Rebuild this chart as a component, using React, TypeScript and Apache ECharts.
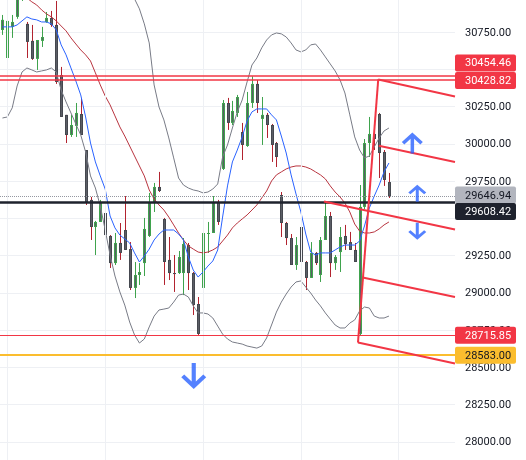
import { useEffect, useRef } from "react";
import * as echarts from "echarts";

// ---- candles (bar index = position in arrays) ----
const opens = [30765,30577,30786,30853,30990,30806,30692,30571,30692,30819,
 30846,30799,30463,30195,30060,30121,30201,29959,29624,29442,
 29476,29536,29382,29200,29335,29422,29294,29033,29120,29200,
 29382,29603,29711,29496,29221,29133,29133,29133,29321,29133,
 28925,29033,29395,29402,29610,29832,30275,30141,30208,30080,
 29986,30275,30403,30168,30195,30127,30006,29657,29469,29368,
 29187,29442,29207,29100,29268,29120,29355,29516,29200,29274,
 29382,29341,29288,28724,29577,30006,30067,30201,29946,29744];
const closes = [30833,30826,30819,30990,31050,30685,30571,30698,30718,30846,
 30799,30416,30181,30060,30127,30208,30060,29610,29442,29476,
 29610,29388,29200,29335,29268,29288,29033,29120,29140,29429,
 29610,29711,29684,29207,29133,29127,29241,29328,29133,28918,
 28724,29402,29402,29610,29476,30275,30141,30221,30315,29993,
 30275,30403,30275,30195,30127,29993,29912,29469,29368,29187,
 29321,29207,29100,29268,29200,29355,29516,29200,29241,29375,
 29328,29288,29207,29577,30006,30067,30033,29939,29758,29646.94];
const lows = [30732,30570,30712,30840,30960,30577,30564,30497,30651,30813,
 30786,30403,30181,30006,30047,30047,30060,29590,29355,29254,
 29476,29375,29167,29187,29221,29288,29019,28965,29053,29113,
 29375,29543,29677,29053,29086,29006,29127,28985,29019,28851,
 28716,28965,29268,29402,29456,29825,30094,30127,30181,29892,
 29980,30242,30208,29993,30040,29879,29845,29375,29321,29187,
 29154,29207,29019,29100,29187,29073,29355,29106,29154,29140,
 29288,29288,29207,28716,29563,29912,29959,29771,29718,29637];
const highs = [30866,30866,30866,31020,31080,30819,30799,30698,30786,30886,
 30893,30960,30517,30195,30195,30275,30309,29959,29644,29483,
 29624,29637,29388,29402,29469,29650,29341,29207,29200,29503,
 29671,29738,29812,29503,29375,29254,29281,29368,29335,29140,
 28972,29436,29476,29650,29624,30295,30309,30289,30329,30141,
 30349,30454.46,30428.82,30315,30208,30134,30013,29677,29476,29395,
 29375,29476,29214,29341,29274,29375,29617,29543,29254,29442,
 29456,29409,29335,29724,30033,30181,30127,30208,29959,29805];

// ---- indicators ----
const fastMA = [30786,30786,30786,30799,30826,30853,30839,30833,30819,30819,
 30806,30766,30665,30598,30510,30423,30329,30181,30006,29879,
 29785,29697,29516,29436,29388,29362,29335,29268,29207,29247,
 29294,29355,29395,29422,29422,29422,29395,29355,29241,29153,
 29106,29140,29180,29214,29288,29509,29718,29879,29959,30047,
 30154,30215,30235,30235,30235,30195,30161,30053,29939,29792,
 29664,29543,29395,29274,29254,29268,29268,29268,29288,29308,
 29321,29321,29321,29348,29449,29570,29650,29724,29812,29872];
const slowMA = [31115,31088,31061,31034,31007,30980,30954,30933,30900,30873,
 30853,30826,30792,30759,30712,30671,30631,30598,30557,30477,
 30396,30322,30262,30188,30114,30053,29986,29919,29852,29785,
 29691,29630,29590,29556,29509,29456,29402,29355,29315,29294,
 29274,29268,29274,29288,29308,29348,29388,29436,29469,29496,
 29523,29556,29590,29637,29684,29751,29792,29812,29832,29845,
 29852,29852,29845,29832,29812,29792,29765,29718,29677,29644,
 29603,29543,29462,29415,29402,29402,29409,29429,29456,29476];
const bandUpper = [31230,31240,31250,31260,31270,31280,31290,31300,31300,31300,
 31300,31290,31280,31270,31260,31250,31240,31230,31220,31210,
 31200,31180,31160,31130,31100,31070,31030,30974,30907,30806,
 30678,30396,30248,30161,30040,29906,29771,29724,29704,29691,
 29684,29671,29677,29697,29731,29912,29993,30107,30215,30295,
 30416,30530,30577,30645,30698,30732,30745,30739,30718,30678,
 30631,30618,30631,30665,30671,30631,30584,30537,30490,30430,
 30342,30195,30047,29959,29906,29919,29980,30040,30087,30107];
const bandLower = [30174,30181,30242,30389,30483,30510,30497,30483,30490,30497,
 30510,30483,30362,30282,30208,30134,30060,29946,29785,29704,
 29583,29422,29254,29113,29006,28918,28804,28717,28663,28690,
 28771,28844,28885,28891,28898,28938,28985,28992,28972,28912,
 28865,28865,28858,28831,28777,28723,28690,28670,28663,28656,
 28643,28636,28629,28643,28697,28784,28871,28938,28992,29039,
 29073,29080,29039,28999,28952,28912,28865,28824,28784,28764,
 28764,28797,28818,28878,28905,28898,28844,28831,28831,28844];

// ---- axis ----
const yMin = 27750;
const yMax = 31000;
const yStep = 250;
const hiddenTicks = [30500, 29500];
const timeGridBars = [1, 21, 41, 61, 81];
const barSlots = 93;

// ---- drawings ----
const levelValues = [30454.46, 30428.82, 29646.94, 29608.42, 28715.85, 28583.0];
const channelSegments = [
  [72.67, 28666, 76.81, 30433],
  [76.81, 30433, 92.5, 30319],
  [76.93, 29988, 92.5, 29879],
  [65.71, 29614, 92.5, 29425],
  [73.62, 29103, 92.5, 28972],
  [72.67, 28666, 92.5, 28525],
];
const arrowUpPoints = [[83.78, 30006], [84.79, 29669]];
const arrowDownPoints = [[84.79, 29413], [39.1, 28441]];

const GREEN = "#3fa34d";
const RED = "#b2232f";
const BODY = "#5b5e66";
const DOWN_EDGE = "#45484f";
const LINE_RED = "#f23645";

const levelStyles = [
  { color: LINE_RED, width: 1.5, type: "solid", bg: LINE_RED, fg: "#ffffff", shift: -13.3 },
  { color: LINE_RED, width: 1.5, type: "solid", bg: LINE_RED, fg: "#ffffff", shift: 0.4 },
  { color: "#9598a1", width: 1, type: "dotted", bg: "#b2b5be", fg: "#131722", shift: -1.5 },
  { color: "#1e222d", width: 2.5, type: "solid", bg: "#1e222d", fg: "#ffffff", shift: 9.2 },
  { color: LINE_RED, width: 1, type: "solid", bg: LINE_RED, fg: "#ffffff", shift: 0 },
  { color: "#fbbd2e", width: 2, type: "solid", bg: "#fbbd2e", fg: "#131722", shift: 0.2 },
];

const UP_PATH = "path://M12 1L22.5 11.5L20 14L13.75 7.75L13.75 24L10.25 24L10.25 7.75L4 14L1.5 11.5Z";
const DOWN_PATH = "path://M12 24L22.5 13.5L20 11L13.75 17.25L13.75 1L10.25 1L10.25 17.25L4 11L1.5 13.5Z";

export default function App() {
  const ref = useRef<HTMLDivElement>(null);

  useEffect(() => {
    const el = ref.current;
    if (!el) return;
    const chart = echarts.init(el, undefined, { renderer: "svg" });
    const bars = opens.map((o, i) => [i, o, closes[i], lows[i], highs[i]]);
    const xy = (arr: number[]) => arr.map((v, i) => [i, v]);
    const lineBase = { type: "line", symbol: "none", silent: true, clip: true, z: 3 };

    const option: any = {
      animation: false,
      grid: { left: -3.06, right: 71, top: 0, bottom: 0 },
      xAxis: { type: "value", min: -0.5, max: barSlots - 0.5, show: false },
      yAxis: {
        type: "value",
        position: "right",
        min: yMin,
        max: yMax,
        interval: yStep,
        axisLine: { show: false },
        axisTick: { show: false },
        splitLine: { lineStyle: { color: "#eef0f4", width: 1 } },
        axisLabel: {
          margin: 10,
          color: "#131722",
          fontFamily: "Roboto",
          fontSize: 11,
          showMinLabel: false,
          showMaxLabel: false,
          formatter: (v: number) => (hiddenTicks.includes(v) ? "" : v.toFixed(2)),
        },
      },
      series: [
        {
          type: "line",
          data: [],
          silent: true,
          z: 1,
          markLine: {
            silent: true,
            symbol: ["none", "none"],
            label: { show: false },
            lineStyle: { color: "#eef0f4", type: "solid", width: 1 },
            data: timeGridBars.map((b) => ({ xAxis: b })),
          },
        },
        {
          type: "custom",
          z: 2,
          clip: true,
          silent: true,
          data: bars,
          encode: { x: 0, y: [1, 2, 3, 4] },
          renderItem: (_p: any, api: any) => {
            const i = api.value(0);
            const o = api.value(1);
            const c = api.value(2);
            const l = api.value(3);
            const h = api.value(4);
            const up = c >= o;
            const ph = api.coord([i, h]);
            const pl = api.coord([i, l]);
            const po = api.coord([i, o]);
            const pc = api.coord([i, c]);
            const xc = Math.round(ph[0]);
            const top = Math.min(po[1], pc[1]);
            const bot = Math.max(po[1], pc[1]);
            const hgt = Math.max(1, bot - top);
            const children: any[] = [
              {
                type: "line",
                shape: { x1: xc + 0.5, y1: ph[1], x2: xc + 0.5, y2: pl[1] },
                style: { stroke: up ? GREEN : RED, lineWidth: 1 },
              },
              {
                type: "rect",
                shape: { x: xc - 1, y: top, width: 3, height: hgt },
                style: { fill: up ? GREEN : DOWN_EDGE, stroke: null },
              },
            ];
            if (hgt > 2) {
              children.push({
                type: "rect",
                shape: { x: xc, y: top + 1, width: 1, height: hgt - 2 },
                style: { fill: BODY, stroke: null },
              });
            }
            return { type: "group", children };
          },
        },
        { ...lineBase, data: xy(bandUpper), lineStyle: { color: "#787b86", width: 1 } },
        { ...lineBase, data: xy(bandLower), lineStyle: { color: "#787b86", width: 1 } },
        { ...lineBase, data: xy(slowMA), lineStyle: { color: "#b8343f", width: 1 } },
        { ...lineBase, data: xy(fastMA), lineStyle: { color: "#2962ff", width: 1 } },
        {
          type: "line",
          data: [],
          silent: true,
          z: 4,
          markLine: {
            silent: true,
            symbol: ["none", "none"],
            label: { show: false },
            data: levelValues.map((v, i) => ({
              yAxis: v,
              lineStyle: { color: levelStyles[i].color, width: levelStyles[i].width, type: levelStyles[i].type },
            })),
          },
        },
        {
          type: "lines",
          coordinateSystem: "cartesian2d",
          silent: true,
          z: 5,
          lineStyle: { color: LINE_RED, width: 2, opacity: 1 },
          data: channelSegments.map((s) => ({ coords: [[s[0], s[1]], [s[2], s[3]]] })),
        },
        {
          type: "scatter",
          silent: true,
          z: 6,
          itemStyle: { color: "#2962ff" },
          data: [
            { value: arrowUpPoints[0], symbol: UP_PATH, symbolSize: [21, 21] },
            { value: arrowUpPoints[1], symbol: UP_PATH, symbolSize: [18, 17] },
            { value: arrowDownPoints[0], symbol: DOWN_PATH, symbolSize: [18, 17] },
            { value: arrowDownPoints[1], symbol: DOWN_PATH, symbolSize: [25, 26] },
          ],
        },
      ],
    };
    chart.setOption(option);

    const boxX = chart.convertToPixel({ xAxisIndex: 0 }, barSlots - 0.5) as number;
    const graphics: any[] = [];
    levelValues.forEach((v, i) => {
      const st = levelStyles[i];
      const cy = (chart.convertToPixel({ yAxisIndex: 0 }, v) as number) + st.shift;
      graphics.push({
        type: "rect",
        z: 100,
        shape: { x: boxX, y: cy - 8.5, width: 61, height: 17, r: 2 },
        style: { fill: st.bg },
      });
      graphics.push({
        type: "text",
        z: 101,
        x: boxX + 10,
        y: cy,
        style: {
          text: v.toFixed(2),
          fill: st.fg,
          font: "11px Roboto",
          verticalAlign: "middle",
          align: "left",
        },
      });
    });
    chart.setOption({ graphic: graphics });

    return () => chart.dispose();
  }, []);

  return (
    <div
      ref={ref}
      style={{ position: "fixed", left: 0, top: -5, width: 526, height: 484 }}
    />
  );
}
